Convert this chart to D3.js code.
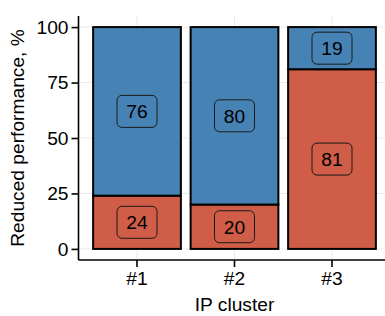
<!DOCTYPE html>
<meta charset="utf-8">
<style>
    body { margin: 0; background: #fff; }
    text { font-family: "Liberation Sans", Arial, sans-serif; fill: #000; }
    .grid line { stroke: #ebebeb; stroke-width: 1; }
</style>
<svg width="385" height="316"></svg>
<script src="https://cdn.jsdelivr.net/npm/d3@7"></script>
<script>

    var clusters = ["#1", "#2", "#3"];
    var reducedLow = [24, 20, 81];   // red, bottom
    var reducedHigh = [76, 80, 19];  // blue, top
    var yTicks = [0, 25, 50, 75, 100];

    var colors = { low: "#cf5d47", high: "#4682b4" };
    var fs = "19.2px";

    var svg = d3.select("svg");

    var x = d3.scaleBand()
        .domain(clusters)
        .range([78.5, 390.5])
        .paddingInner(0.1)
        .paddingOuter(0.15);

    var y = d3.scaleLinear()
        .domain([-5, 105])
        .range([260, 16]);

    // grid
    var grid = svg.append("g").attr("class", "grid");
    grid.selectAll(".h")
        .data(yTicks)
        .enter().append("line")
        .attr("x1", 78.5).attr("x2", 390.5)
        .attr("y1", function (d) { return y(d); })
        .attr("y2", function (d) { return y(d); });
    grid.selectAll(".v")
        .data(clusters)
        .enter().append("line")
        .attr("y1", 16).attr("y2", 260)
        .attr("x1", function (d) { return x(d) + x.bandwidth() / 2; })
        .attr("x2", function (d) { return x(d) + x.bandwidth() / 2; });

    // stacked segments
    var segs = [];
    clusters.forEach(function (c, i) {
        segs.push({ c: c, y0: 0, y1: reducedLow[i], v: reducedLow[i], fill: colors.low });
        segs.push({ c: c, y0: reducedLow[i], y1: reducedLow[i] + reducedHigh[i], v: reducedHigh[i], fill: colors.high });
    });

    svg.append("g")
        .selectAll("rect")
        .data(segs)
        .enter().append("rect")
        .attr("x", function (d) { return x(d.c); })
        .attr("width", x.bandwidth())
        .attr("y", function (d) { return y(d.y1); })
        .attr("height", function (d) { return y(d.y0) - y(d.y1); })
        .attr("fill", function (d) { return d.fill; })
        .attr("stroke", "#000")
        .attr("stroke-width", 2);

    // labels
    var lab = svg.append("g")
        .selectAll("g")
        .data(segs)
        .enter().append("g")
        .attr("transform", function (d) {
            return "translate(" + (x(d.c) + x.bandwidth() / 2) + "," + y((d.y0 + d.y1) / 2) + ")";
        });
    lab.append("rect")
        .attr("x", -20).attr("y", -16)
        .attr("width", 40).attr("height", 32)
        .attr("rx", 5)
        .attr("fill", function (d) { return d.fill; })
        .attr("stroke", "#1a1a1a")
        .attr("stroke-width", 1);
    lab.append("text")
        .attr("text-anchor", "middle")
        .attr("dy", "0.36em")
        .style("font-size", fs)
        .text(function (d) { return d.v; });

    // axes
    var yAxis = svg.append("g")
        .attr("transform", "translate(78.5,0)")
        .call(d3.axisLeft(y).tickValues(yTicks).tickSize(7).tickPadding(3));
    yAxis.select(".domain").attr("d", "M0,16V260").attr("stroke-width", 1.6);
    yAxis.selectAll(".tick line").attr("stroke-width", 1.6);
    yAxis.selectAll("text").style("font-size", fs).attr("fill", "#000");

    var xAxis = svg.append("g")
        .attr("transform", "translate(0,260)")
        .call(d3.axisBottom(x).tickSize(7).tickPadding(4));
    xAxis.select(".domain").attr("d", "M78.5,0H390.5").attr("stroke-width", 1.6);
    xAxis.selectAll(".tick line").attr("stroke-width", 1.6);
    xAxis.selectAll("text").style("font-size", fs).attr("fill", "#000");

    svg.append("text")
        .attr("x", 234.5)
        .attr("y", 311)
        .attr("text-anchor", "middle")
        .style("font-size", fs)
        .text("IP cluster");

    svg.append("text")
        .attr("transform", "translate(24,138) rotate(-90)")
        .attr("text-anchor", "middle")
        .style("font-size", fs)
        .text("Reduced performance, %");

</script>
